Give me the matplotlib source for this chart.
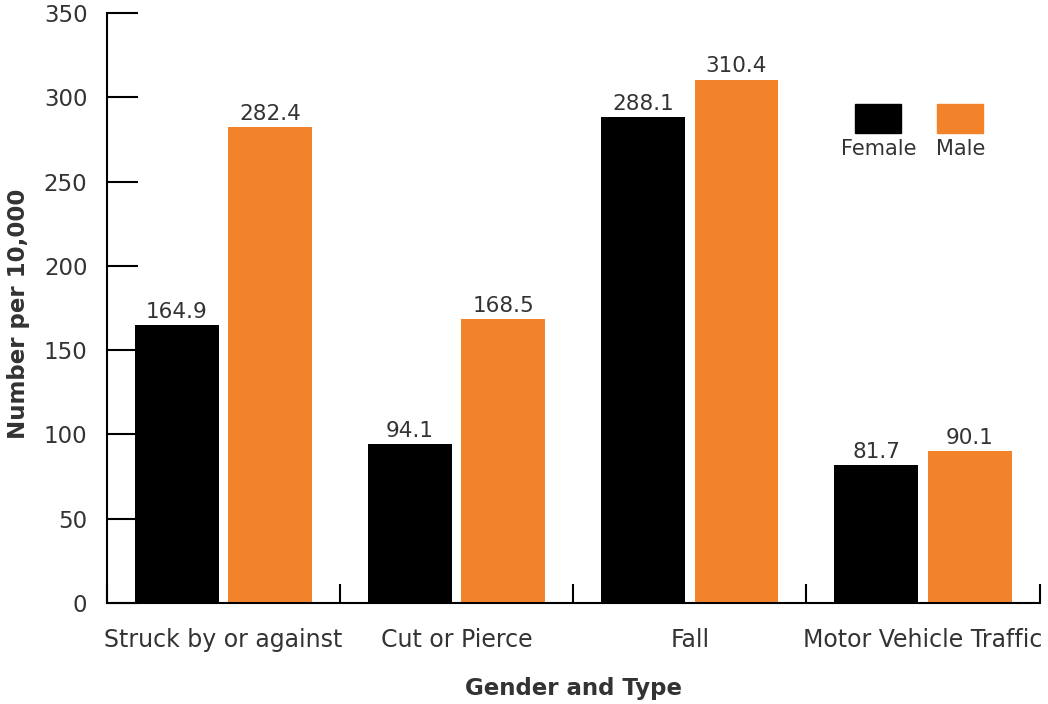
import numpy as np
import matplotlib
matplotlib.use("Agg")
from matplotlib import pyplot as plt
from matplotlib.patches import Rectangle

categories = ["Struck by or against", "Cut or Pierce", "Fall", "Motor Vehicle Traffic"]
female = [164.9, 94.1, 288.1, 81.7]
male = [282.4, 168.5, 310.4, 90.1]
yticks = [0, 50, 100, 150, 200, 250, 300, 350]

black = "#000000"
orange = "#F2832B"
txt = "#333333"

plt.rcParams['font.family'] = ['DejaVu Sans']

fig = plt.figure(figsize=(10.48, 7.04), dpi=100)
ax = fig.add_axes([0.102, 0.1435, 0.89, 0.838])

x = np.arange(len(categories))
w = 0.36
b1 = ax.bar(x - 0.2, female, w, color=black)
b2 = ax.bar(x + 0.2, male, w, color=orange)

for bars, vals in ((b1, female), (b2, male)):
    for r, v in zip(bars, vals):
        ax.text(r.get_x() + r.get_width() / 2, v + 2, f"{v:.1f}",
                ha='center', va='bottom', fontsize=15.5, color=txt)

ax.set_xlim(-0.5, len(categories) - 0.5)
ax.set_ylim(0, 350)
ax.set_yticks(yticks)
ax.set_xticks(np.arange(len(categories) + 1) - 0.5, minor=True)
ax.set_xticks(x)
ax.set_xticklabels(categories, fontsize=17, color=txt)
ax.tick_params(axis='x', which='major', length=0, pad=18)
ax.tick_params(axis='x', which='minor', direction='in', length=14, width=1.5)
ax.tick_params(axis='y', direction='in', length=22, width=1.5, labelsize=16.5,
               labelcolor=txt, pad=14)

for s in ('top', 'right'):
    ax.spines[s].set_visible(False)
for s in ('left', 'bottom'):
    ax.spines[s].set_linewidth(1.5)

ax.set_ylabel("Number per 10,000", fontsize=16.5, fontweight='bold', color=txt)
ax.yaxis.set_label_coords(-0.082, 0.49)
ax.set_xlabel("Gender and Type", fontsize=16.5, fontweight='bold', color=txt, labelpad=18)

# legend: swatches with labels underneath
for xl, col, lab in ((0.8025, black, "Female"), (0.8905, orange, "Male")):
    ax.add_patch(Rectangle((xl, 0.797), 0.0485, 0.049, transform=ax.transAxes,
                           color=col, clip_on=False))
    ax.text(xl + 0.0245, 0.787, lab, transform=ax.transAxes, ha='center', va='top',
            fontsize=15, color=txt)

fig.savefig("out.png", dpi=100)
